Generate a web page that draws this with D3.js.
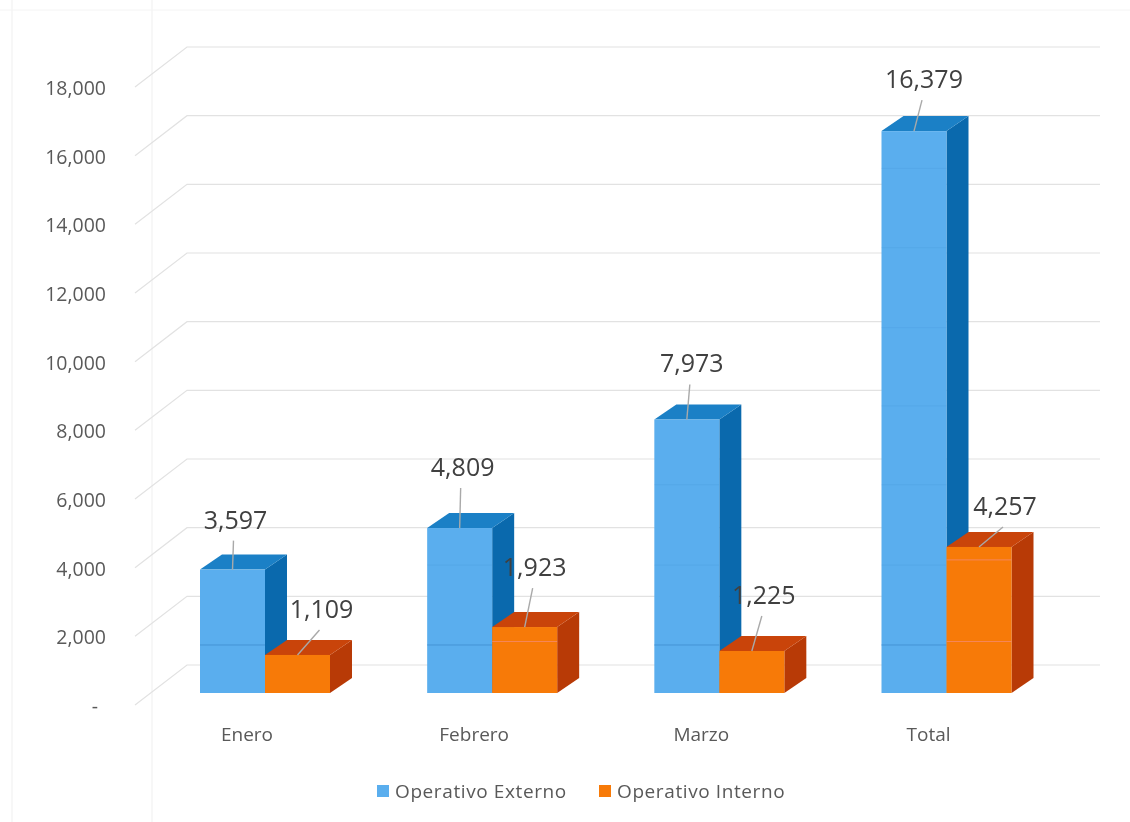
<!DOCTYPE html>
<html><head><meta charset="utf-8">
<script src="https://cdn.jsdelivr.net/npm/d3@7/dist/d3.min.js"></script>
<style>html,body{margin:0;padding:0;background:#fff}svg{display:block;filter:blur(0.55px)}</style>
</head><body><div id="chart"></div>
<script>
const categories = ["Enero","Febrero","Marzo","Total"];
const seriesNames = ["Operativo Externo","Operativo Interno"];
const externo = [3597,4809,7973,16379];
const interno = [1109,1923,1225,4257];
const valueLabels = [["3,597","4,809","7,973","16,379"],["1,109","1,923","1,225","4,257"]];
const tickValues = [0,2000,4000,6000,8000,10000,12000,14000,16000,18000];
const frontColors = ["#5aaeee","#f77a08"];
const topColors = ["#1b80c6","#c9440a"];
const sideColors = ["#0a69ad","#b83a06"];
// faint scan seams across the front faces of the bars
const seamsExterno = [1400,3730,6070,8370,10650,12980,15290];
const seamsInterno = [1500,3880];
const seamColors = ["#3f8fd0","#f58a70"];
// layout of leader lines, offset of label & line ends from each bar top centre
const labelOffsets = [[[3,-50],[3,-61],[5,-56],[10,-52]],[[24,-46],[10,-60],[12,-56],[26,-41]]];

const W=1130,H=822;
const svg=d3.select("#chart").append("svg").attr("width",W).attr("height",H);
const depthX=22,depthY=-15,gridDX=52,gridDY=-40;

const yFront=d3.scaleLinear().domain([0,18000]).range([705,87]);
const yBack=d3.scaleLinear().domain([0,18000]).range([665,47]);
const yBar=d3.scaleLinear().domain([0,18000]).range([693,75.5]);
const xBand=d3.scalePoint().domain(categories).range([265,946.5]);
const barW=65;

// page artefacts
svg.append("g").attr("stroke","#efefef").attr("fill","none").selectAll("path")
  .data([[12,0,12,822],[152,0,152,822]]).join("path")
  .attr("d",d=>`M${d[0]},${d[1]}L${d[2]},${d[3]}`);
svg.append("path").attr("d","M0,10L1130,10").attr("stroke","#f4f4f4");

// grid
const grid=svg.append("g").attr("fill","none").attr("stroke","#e2e2e2").attr("stroke-width",1.2);
grid.selectAll("path").data(tickValues).join("path")
  .attr("d",v=>`M${135},${yFront(v)}L${135+gridDX},${yBack(v)}L1100,${yBack(v)}`);

// axis labels
svg.append("g").attr("font-family","Open Sans, sans-serif").attr("font-size",19.5).attr("fill","#595959")
  .attr("text-anchor","end").selectAll("text").data(tickValues).join("text")
  .attr("x",106).attr("y",v=>yFront(v)+8)
  .text(v=>v===0?"-":d3.format(",")(v))
  .attr("dx",v=>v===0?-8:0);

// bars
const groups=[externo,interno];
const seamGroups=[seamsExterno,seamsInterno];
categories.forEach((c,i)=>{
  groups.forEach((vals,s)=>{
    const x0=xBand(c)+(s===0?-barW:0), x1=x0+barW, yb=yBar(0), yt=yBar(vals[i]);
    const g=svg.append("g");
    g.append("path").attr("fill",sideColors[s])
      .attr("d",`M${x1},${yt}L${x1+depthX},${yt+depthY}L${x1+depthX},${yb+depthY}L${x1},${yb}Z`);
    g.append("path").attr("fill",topColors[s])
      .attr("d",`M${x0},${yt}L${x0+depthX},${yt+depthY}L${x1+depthX},${yt+depthY}L${x1},${yt}Z`);
    g.append("rect").attr("x",x0).attr("y",yt).attr("width",barW).attr("height",yb-yt).attr("fill",frontColors[s]);
    g.selectAll("line").data(seamGroups[s].filter(v=>v<vals[i])).join("line")
      .attr("x1",x0).attr("x2",x1).attr("y1",v=>yBar(v)).attr("y2",v=>yBar(v))
      .attr("stroke",seamColors[s]).attr("stroke-opacity",(v,j)=>s===0&&j>0?0.2:0.8);
  });
});

// value labels with leaders
groups.forEach((vals,s)=>{
  vals.forEach((v,i)=>{
    const cx=xBand(categories[i])+(s===0?-barW/2:barW/2), ty=yBar(v);
    const [dx,dy]=labelOffsets[s][i];
    svg.append("path").attr("stroke","#a9a9a9").attr("stroke-width",1.4).attr("fill","none")
      .attr("d",`M${cx+dx-2},${ty+dy+21}L${cx},${ty}`);
    svg.append("text").attr("x",cx+dx).attr("y",ty+dy+9).attr("text-anchor","middle")
      .attr("font-family","Open Sans, sans-serif").attr("font-size",25).attr("fill","#404040")
      .text(valueLabels[s][i]);
  });
});

// category labels
svg.append("g").attr("font-family","Open Sans, sans-serif").attr("font-size",19).attr("fill","#595959")
  .attr("text-anchor","middle").selectAll("text").data(categories).join("text")
  .attr("x",c=>xBand(c)-18).attr("y",741).text(c=>c);

// legend
const leg=svg.append("g").attr("font-family","Open Sans, sans-serif").attr("font-size",19).attr("letter-spacing",0.6).attr("fill","#595959");
[[377,395],[599,617]].forEach((p,i)=>{
  leg.append("rect").attr("x",p[0]).attr("y",785).attr("width",12).attr("height",12).attr("fill",frontColors[i]);
  leg.append("text").attr("x",p[1]).attr("y",798).text(seriesNames[i]);
});
</script></body></html>
